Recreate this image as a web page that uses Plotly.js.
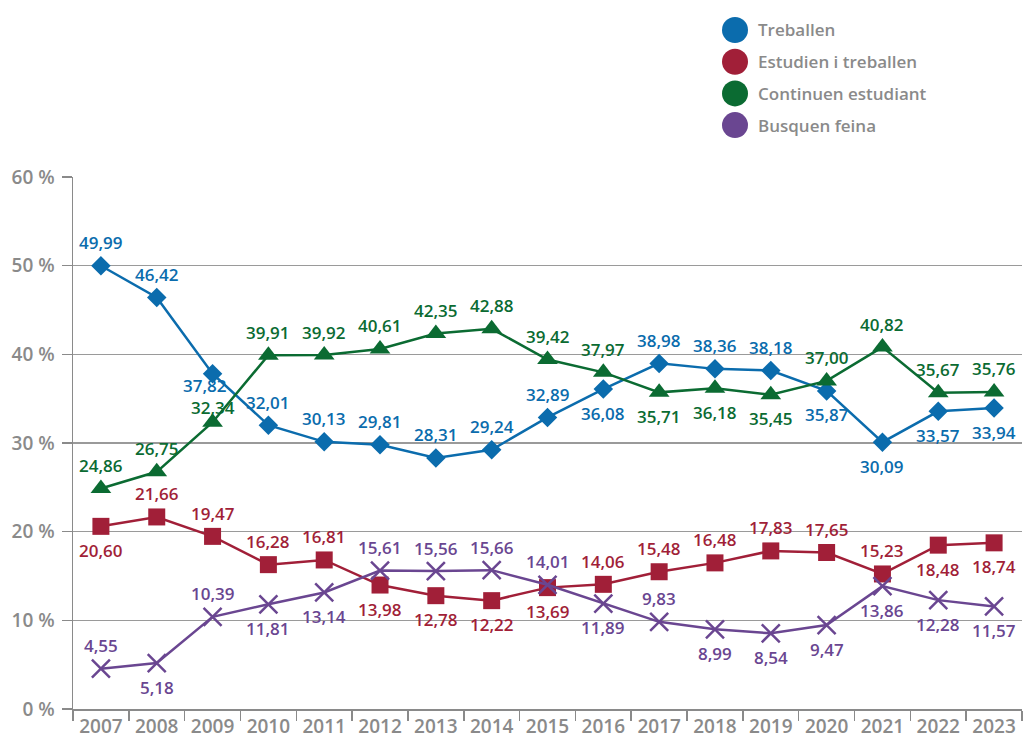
<!DOCTYPE html>
<html>
<head>
<meta charset="utf-8">
<script src="https://cdn.plot.ly/plotly-3.0.1.min.js"></script>
<style>html,body{margin:0;padding:0;background:#fff;}#chart{width:1023px;height:742px;}</style>
</head>
<body>
<div id="chart"></div>
<script>
// ---- data ----
const years = ["2007","2008","2009","2010","2011","2012","2013","2014","2015","2016","2017","2018","2019","2020","2021","2022","2023"];
const seriesNames = ["Treballen","Estudien i treballen","Continuen estudiant","Busquen feina"];
const treballen = [49.99,46.42,37.82,32.01,30.13,29.81,28.31,29.24,32.89,36.08,38.98,38.36,38.18,35.87,30.09,33.57,33.94];
const estudien = [20.60,21.66,19.47,16.28,16.81,13.98,12.78,12.22,13.69,14.06,15.48,16.48,17.83,17.65,15.23,18.48,18.74];
const continuen = [24.86,26.75,32.34,39.91,39.92,40.61,42.35,42.88,39.42,37.97,35.71,36.18,35.45,37.00,40.82,35.67,35.76];
const busquen = [4.55,5.18,10.39,11.81,13.14,15.61,15.56,15.66,14.01,11.89,9.83,8.99,8.54,9.47,13.86,12.28,11.57];
const yTicks = [0,10,20,30,40,50,60];
const yTickText = ["0 %","10 %","20 %","30 %","40 %","50 %","60 %"];

// ---- styling / label placement (t = above, b = below) ----
const colors = ["#0b6cad","#a11f38","#0b6b32","#6a4691"];
const symbols = ["diamond","square","triangle-up","x-thin"];
const msizes = [15,17,18,18];
const place = [
  ["t","t","b","t","t","t","t","t","t","b","t","t","t","b","b","b","b"],
  ["b","t","t","t","t","b","b","b","b","t","t","t","t","t","t","b","b"],
  ["t","t","t","t","t","t","t","t","t","t","b","b","b","t","t","t","t"],
  ["t","b","t","b","b","t","t","t","t","b","t","b","b","b","b","b","b"]
];
// special label shifts [series, index, xshift, yshift]
const special = [[0, 2, -8, -12], [2, 2, 0, 15]];
const allSeries = [treballen, estudien, continuen, busquen];
const fmt = v => v.toFixed(2).replace(".", ",");
const labelFont = "'Open Sans', Lato, sans-serif";
const gray = "#8a8a8a";

const traces = allSeries.map((vals, i) => ({
  type: "scatter", mode: "lines+markers", x: years, y: vals, name: seriesNames[i],
  showlegend: false, hoverinfo: "skip",
  line: {color: colors[i], width: 2.5},
  marker: {symbol: symbols[i], size: msizes[i], color: colors[i],
           line: {color: colors[i], width: symbols[i] === "x-thin" ? 2.5 : 0}}
}));

const annotations = [];
allSeries.forEach((vals, i) => {
  vals.forEach((v, j) => {
    let xs = 0, ys = place[i][j] === "t" ? 23 : -24;
    special.forEach(s => { if (s[0] === i && s[1] === j) { xs = s[2]; ys = s[3]; } });
    annotations.push({
      x: j, y: v, xref: "x", yref: "y", text: fmt(v), showarrow: false,
      xshift: xs, yshift: ys,
      font: {family: labelFont, size: 17, color: colors[i], weight: 600}
    });
  });
});

// legend built from series names/colors
const shapes = [];
const L = 73, R = 1, T = 177, B = 33, W = 1023 - L - R, H = 742 - T - B;
seriesNames.forEach((n, i) => {
  const ypx = 30 + i * 31.7;
  const yp = (742 - B - ypx) / H;
  const xc = (735 - L) / W;
  shapes.push({type: "circle", xref: "paper", yref: "paper", xsizemode: "pixel", ysizemode: "pixel",
    xanchor: xc, yanchor: yp, x0: -13, x1: 13, y0: -13, y1: 13,
    fillcolor: colors[i], line: {width: 0}});
  annotations.push({xref: "paper", yref: "paper", x: (756 - L) / W, y: yp, xanchor: "left", yanchor: "middle",
    text: n, showarrow: false, font: {family: labelFont, size: 17, color: gray, weight: 600}});
});

const layout = {
  width: 1023, height: 742,
  margin: {l: L, r: R, t: T, b: B},
  paper_bgcolor: "#fff", plot_bgcolor: "#fff",
  showlegend: false,
  xaxis: {type: "category", range: [-0.5, 16.5], tickson: "boundaries", ticks: "outside", ticklen: 10, tickwidth: 1.5, tickcolor: gray,
    showgrid: false, showline: true, linecolor: gray, linewidth: 1.5, zeroline: false, tickangle: 0,
    tickfont: {family: labelFont, size: 19, color: gray, weight: 600}, fixedrange: true},
  yaxis: {range: [0, 60], tickmode: "array", tickvals: yTicks, ticktext: yTickText, ticks: "outside", ticklen: 10, tickwidth: 1.5, tickcolor: gray,
    showgrid: true, gridcolor: "#9a9a9a", gridwidth: 1.5, showline: true, linecolor: gray, linewidth: 1.5, zeroline: false,
    ticklabelstandoff: 3,
    tickfont: {family: labelFont, size: 19, color: gray, weight: 600}, fixedrange: true},
  annotations: annotations,
  shapes: shapes
};

Plotly.newPlot("chart", traces, layout, {displayModeBar: false, staticPlot: true});
</script>
</body>
</html>
